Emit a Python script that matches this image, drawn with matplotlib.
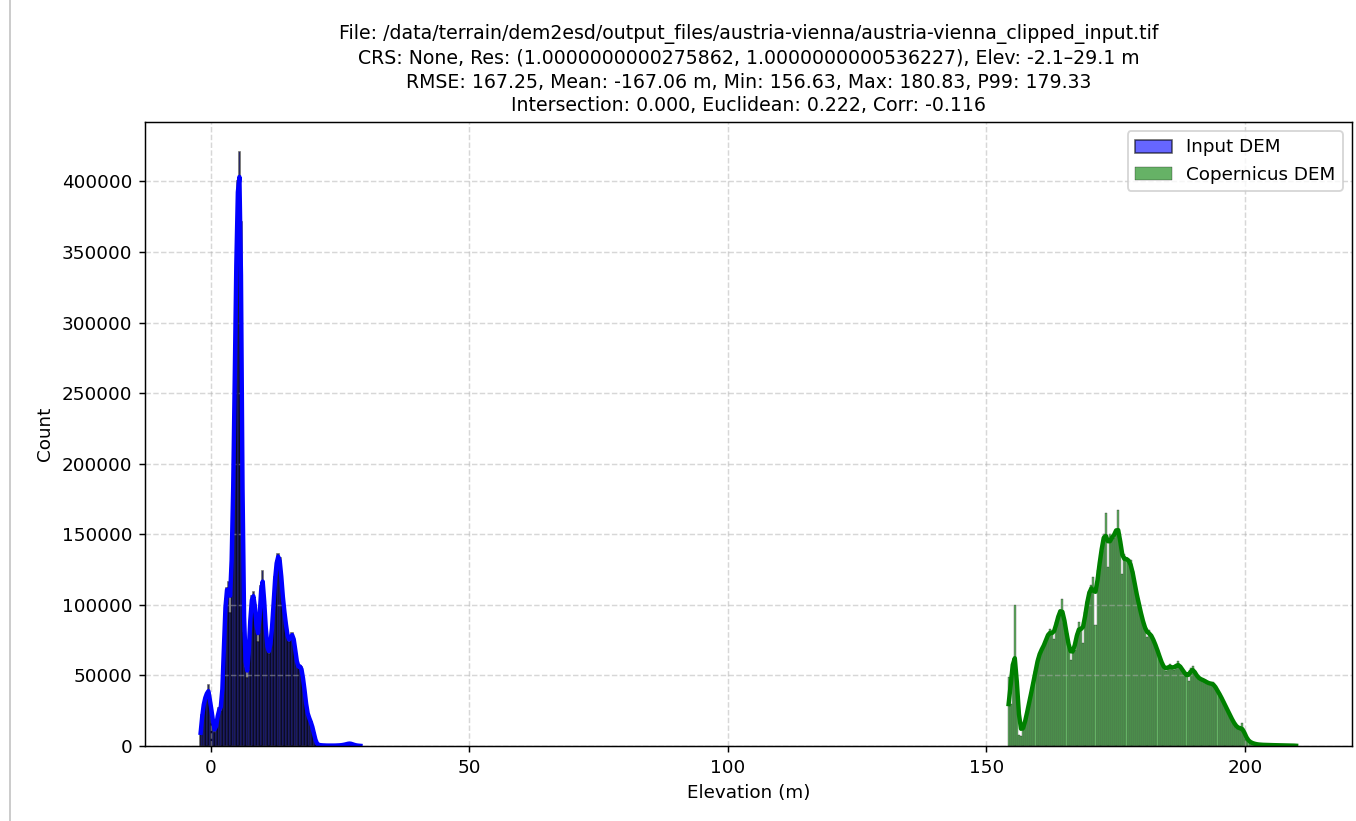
import numpy as np
import matplotlib
matplotlib.use("Agg")
import matplotlib.pyplot as plt
from matplotlib.lines import Line2D

# histogram bins (counts in thousands)
input_start = -2.1
input_width = 0.3
input_counts = [8, 22, 30, 35, 36, 43, 31, 26, 17, 9,
                13, 22, 27, 25, 34, 70, 104, 112, 116, 94,
                128, 175, 260, 350, 400, 421, 371, 150, 80, 55,
                48, 64, 92, 106, 109, 100, 84, 74, 90, 113,
                124, 102, 82, 68, 65, 71, 82, 100, 120, 131,
                136, 133, 121, 104, 95, 86, 77, 74, 77, 80,
                77, 68, 59, 55, 57, 56, 48, 40, 29, 22,
                20, 17, 14, 9, 4, 1.2, 0.8, 0.6, 0.5, 0.4,
                0.4, 0.3, 0.3, 0.3, 0.3, 0.3, 0.3, 0.3, 0.4, 0.4,
                0.5, 0.6, 0.8, 1.0, 1.3, 1.6, 1.8, 1.6, 1.2, 0.8,
                0.5, 0.3, 0.2, 0.1]

cop_start = 154.1
cop_width = 0.4
cop_counts = [49, 30, 55, 100, 40, 8, 7, 11, 17, 24,
              31, 38, 45, 53, 62, 66, 69, 70, 74, 80,
              83, 79, 76, 88, 92, 96, 104, 87, 80, 72,
              61, 66, 68, 80, 88, 84, 73, 95, 103, 110,
              114, 120, 86, 125, 130, 138, 150, 165, 127, 150,
              149, 147, 150, 167, 146, 122, 136, 133, 131, 132,
              124, 114, 106, 101, 94, 87, 84, 77, 82, 79,
              75, 72, 68, 63, 59, 55, 53, 56, 58, 55,
              54, 57, 60, 56, 54, 52, 50, 46, 55, 57,
              52, 49, 48, 47, 47, 46, 45, 44, 44, 45,
              42, 39, 37, 34, 31, 28, 25, 22, 19, 16,
              14, 12.5, 11, 16, 9, 5, 3.5, 2.5, 2, 1.5,
              1.2, 1.0, 0.9, 0.8, 0.8, 0.7, 0.7, 0.6, 0.6, 0.6,
              0.5, 0.5, 0.5, 0.5, 0.4, 0.4, 0.4, 0.3, 0.3, 0.2]

title = ("File: /data/terrain/dem2esd/output_files/austria-vienna/austria-vienna_clipped_input.tif\n"
         "CRS: None, Res: (1.0000000000275862, 1.0000000000536227), Elev: -2.1\u201329.1 m\n"
         "RMSE: 167.25, Mean: -167.06 m, Min: 156.63, Max: 180.83, P99: 179.33\n"
         "Intersection: 0.000, Euclidean: 0.222, Corr: -0.116")


def smooth(counts, sigma):
    # simple gaussian smoothing of the bin counts, stands in for the kde line
    k = np.arange(-4 * int(np.ceil(sigma)), 4 * int(np.ceil(sigma)) + 1)
    kern = np.exp(-0.5 * (k / sigma) ** 2)
    kern /= kern.sum()
    return np.convolve(counts, kern, mode='same')


def draw(ax, start, width, counts, color, lw, label, sigma):
    counts = np.asarray(counts) * 1000
    edges = start + width * np.arange(len(counts) + 1)
    ax.hist(edges[:-1], bins=edges, weights=counts, color=color, alpha=0.6,
            edgecolor='black', linewidth=lw, label=label)
    centers = edges[:-1] + width / 2
    ax.plot(centers, smooth(counts, sigma), color=color, linewidth=2.4)


fig, ax = plt.subplots(figsize=(1356 / 132, 821 / 132), dpi=132)
plt.subplots_adjust(left=145 / 1356, right=1352 / 1356, top=1 - 122 / 821, bottom=1 - 746 / 821)

draw(ax, input_start, input_width, input_counts, 'blue', 0.9, 'Input DEM', 0.7)
draw(ax, cop_start, cop_width, cop_counts, 'green', 0.25, 'Copernicus DEM', 1.1)

ax.set_title(title, fontsize=10.3, linespacing=1.3)
ax.set_xlabel("Elevation (m)")
ax.set_ylabel("Count")
ax.grid(True, linestyle='--', alpha=0.5)
ax.legend(loc='upper right')

fig.add_artist(Line2D([10 / 1356, 10 / 1356], [0, 1], color='#c8c8c8', linewidth=1,
                      transform=fig.transFigure))

fig.savefig('out.png', dpi=132)
